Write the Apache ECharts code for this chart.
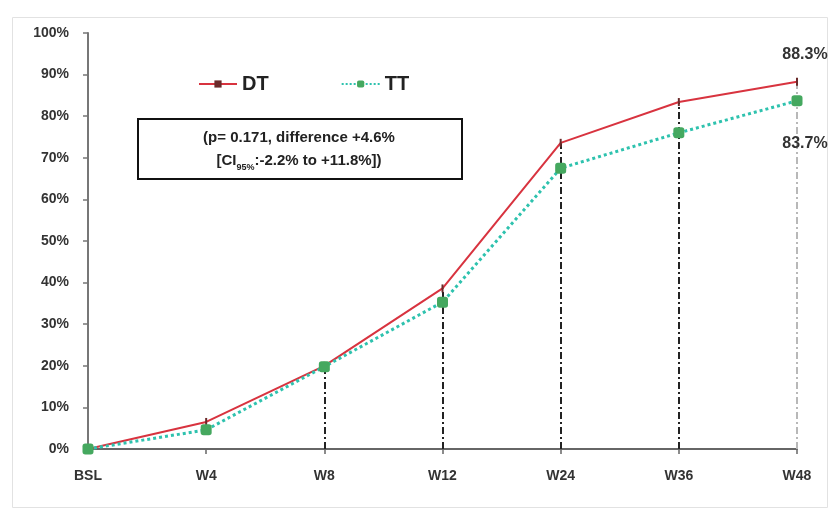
<!DOCTYPE html>
<html>
<head>
<meta charset="utf-8">
<script src="https://cdn.jsdelivr.net/npm/echarts@6/dist/echarts.min.js"></script>
<style>
html,body{margin:0;padding:0;background:#fff;}
#c{width:835px;height:520px;}
</style>
</head>
<body>
<div id="c"></div>
<script>
var categories = ['BSL', 'W4', 'W8', 'W12', 'W24', 'W36', 'W48'];
var dtValues = [0, 6.5, 20, 38.6, 73.6, 83.4, 88.3];
var ttValues = [0, 4.6, 19.8, 35.3, 67.5, 76, 83.7];
var dropIndices = [2, 3, 4, 5, 6];
var yTicks = [0, 100, 10];
var seriesNames = ['DT', 'TT'];
var boxLine1 = '(p= 0.171, difference +4.6%';
var boxLine2a = '[CI';
var boxLine2sub = '95%';
var boxLine2b = ':-2.2% to +11.8%])';

var FONT = 'Liberation Sans';
var chart = echarts.init(document.getElementById('c'), null, {renderer: 'canvas'});

var last = categories.length - 1;
var dropData = dropIndices.map(function (i) {
  var item = [{coord: [i, 0]}, {coord: [i, dtValues[i]]}];
  if (i === last) {
    item[0].lineStyle = {color: '#b8b8b8'};
  }
  return item;
});

var option = {
  backgroundColor: '#ffffff',
  animation: false,
  grid: {left: 88, right: 38, top: 33, bottom: 71},
  legend: {
    data: seriesNames,
    left: 193,
    top: 69,
    itemWidth: 38,
    itemHeight: 9,
    itemGap: 72,
    textStyle: {fontFamily: FONT, fontWeight: 'bold', fontSize: 20, color: '#222'}
  },
  xAxis: {
    type: 'category',
    data: categories,
    boundaryGap: false,
    axisLine: {lineStyle: {color: '#666', width: 2}},
    axisTick: {show: true, length: 5, inside: false, lineStyle: {color: '#666', width: 1.5}},
    axisLabel: {fontFamily: FONT, fontWeight: 'bold', fontSize: 14, color: '#333', margin: 20},
    splitLine: {show: false}
  },
  yAxis: {
    type: 'value',
    min: yTicks[0],
    max: yTicks[1],
    interval: yTicks[2],
    axisLine: {show: true, lineStyle: {color: '#777', width: 2}},
    axisTick: {show: true, length: 5, lineStyle: {color: '#777', width: 1.5}},
    axisLabel: {formatter: '{value}%', fontFamily: FONT, fontWeight: 'bold', fontSize: 14, color: '#333', margin: 19},
    splitLine: {show: false}
  },
  series: [
    {
      name: seriesNames[0],
      type: 'line',
      data: dtValues,
      z: 3,
      symbol: 'rect',
      symbolSize: [2, 8],
      itemStyle: {color: '#6a2a2a'},
      lineStyle: {color: '#d8333f', width: 2},
      label: {
        show: true,
        position: 'top',
        offset: [8, -10],
        fontFamily: FONT, fontWeight: 'bold', fontSize: 16, color: '#333',
        formatter: function (p) { return p.dataIndex === last ? p.value + '%' : ''; }
      },
      markLine: {
        silent: true,
        symbol: ['none', 'none'],
        label: {show: false},
        lineStyle: {color: '#222', width: 2, type: [7, 3, 2, 3]},
        z: 1,
        data: dropData
      }
    },
    {
      name: seriesNames[1],
      type: 'line',
      data: ttValues,
      z: 4,
      symbol: 'roundRect',
      symbolSize: 11,
      itemStyle: {color: '#45a85f'},
      lineStyle: {color: '#2ec2ae', width: 3, type: 'dotted'},
      label: {
        show: true,
        position: 'bottom',
        offset: [8, 24],
        fontFamily: FONT, fontWeight: 'bold', fontSize: 16, color: '#333',
        formatter: function (p) { return p.dataIndex === last ? p.value + '%' : ''; }
      }
    }
  ],
  graphic: [
    {
      type: 'rect',
      left: 10, top: 15,
      shape: {width: 815, height: 490},
      style: {fill: 'none', stroke: '#e2e2e2', lineWidth: 1},
      z: -1
    },
    {
      type: 'rect',
      left: 137, top: 118,
      shape: {width: 324, height: 60},
      style: {fill: '#fff', stroke: '#111', lineWidth: 2},
      z: 10
    },
    {
      type: 'text',
      x: 299, y: 126,
      z: 11,
      style: {
        text: boxLine1 + '\n{n|' + boxLine2a + '}{s|' + boxLine2sub + '}{n|' + boxLine2b + '}',
        align: 'center',
        verticalAlign: 'top',
        fontFamily: FONT,
        fontWeight: 'bold',
        fontSize: 15,
        lineHeight: 23,
        fill: '#222',
        rich: {
          n: {fontFamily: FONT, fontWeight: 'bold', fontSize: 15, fill: '#222', lineHeight: 23},
          s: {fontFamily: FONT, fontWeight: 'bold', fontSize: 9, fill: '#222', verticalAlign: 'bottom', padding: [7, 0, 0, 0], lineHeight: 23}
        }
      }
    }
  ]
};
chart.setOption(option);
</script>
</body>
</html>
